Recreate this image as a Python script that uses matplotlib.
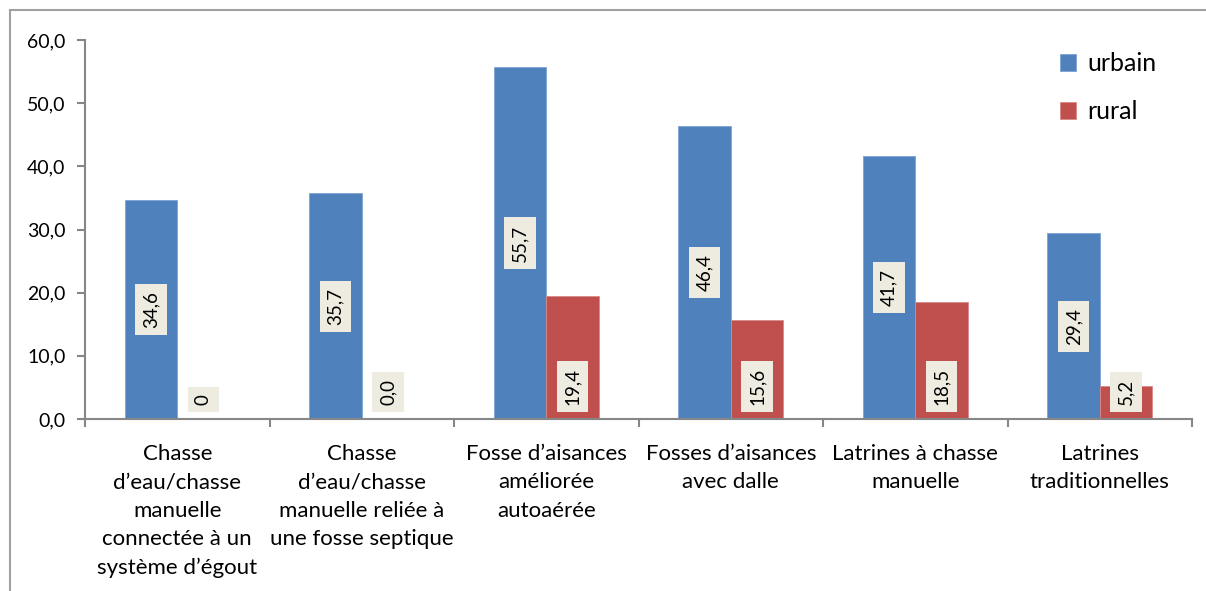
import numpy as np
import matplotlib.pyplot as plt
from matplotlib.patches import Rectangle

plt.rcParams['font.family'] = ['Lato', 'DejaVu Sans']

categories = ["Chasse\nd\u2019eau/chasse\nmanuelle\nconnect\u00e9e \u00e0 un\nsyst\u00e8me d\u2019\u00e9gout",
              "Chasse\nd\u2019eau/chasse\nmanuelle reli\u00e9e \u00e0\nune fosse septique",
              "Fosse d\u2019aisances\nam\u00e9lior\u00e9e\nautoa\u00e9r\u00e9e",
              "Fosses d\u2019aisances\navec dalle",
              "Latrines \u00e0 chasse\nmanuelle",
              "Latrines\ntraditionnelles"]
urbain = [34.6, 35.7, 55.7, 46.4, 41.7, 29.4]
rural = [0.0, 0.0, 19.4, 15.6, 18.5, 5.2]
urbain_labels = ["34,6", "35,7", "55,7", "46,4", "41,7", "29,4"]
rural_labels = ["0", "0,0", "19,4", "15,6", "18,5", "5,2"]
yticks = [0, 10, 20, 30, 40, 50, 60]

blue = '#4F81BD'
red = '#C0504D'
grey = '#868686'
boxc = '#EEECE1'

fig = plt.figure(figsize=(12.06, 5.91), dpi=100)
ax = fig.add_axes([85/1206, 1 - 419/591, (1192-85)/1206, (419-40)/591])

# outer frame (chart area border)
fig.patches.append(Rectangle((10/1206, -0.5), 2, 1.5 - 10/591, transform=fig.transFigure,
                             fill=False, edgecolor='#A0A0A0', lw=1.5))

x = np.arange(len(categories))
w = 0.284
b1 = ax.bar(x - w/2, urbain, w, color=blue, edgecolor='#7FA2D2', lw=0.6, label='urbain')
b2 = ax.bar(x + w/2, rural, w, color=red, edgecolor='#D98A88', lw=0.6, label='rural')

bb = dict(boxstyle='square,pad=0.38', fc=boxc, ec='none')
for i in range(len(x)):
    ax.text(x[i] - w/2, urbain[i] / 2, urbain_labels[i], rotation=90, ha='center', va='center',
            fontsize=13.5, bbox=bb)
    ax.annotate(rural_labels[i], (x[i] + w/2, 0), xytext=(0, 10), textcoords='offset points',
                rotation=90, ha='center', va='bottom', fontsize=13.5, bbox=bb)

ax.set_xlim(-0.5, 5.5)
ax.set_ylim(0, 60)
ax.set_yticks(yticks)
ax.set_yticklabels([('%.1f' % v).replace('.', ',') for v in yticks])
ax.set_xticks(np.arange(-0.5, 6, 1))
ax.set_xticklabels([])
ax.set_xticks(x, minor=True)
ax.set_xticklabels(categories, minor=True, fontsize=16, linespacing=1.53)
ax.tick_params(axis='x', which='minor', length=0, pad=18)
ax.tick_params(axis='x', which='major', length=6, width=1.5, color=grey, direction='out')
ax.tick_params(axis='y', length=6, width=1.5, color=grey, direction='out', labelsize=14, pad=8)

for s in ['top', 'right']:
    ax.spines[s].set_visible(False)
for s in ['left', 'bottom']:
    ax.spines[s].set_color(grey)
    ax.spines[s].set_linewidth(1.5)

ax.legend(loc='upper left', bbox_to_anchor=(1060/1206, 1 - 52/591), bbox_transform=fig.transFigure,
          frameon=False, fontsize=18, handlelength=0.65, handleheight=0.65, handletextpad=0.45,
          labelspacing=1.0, borderaxespad=0, borderpad=0)

fig.savefig('out.png', dpi=100)
